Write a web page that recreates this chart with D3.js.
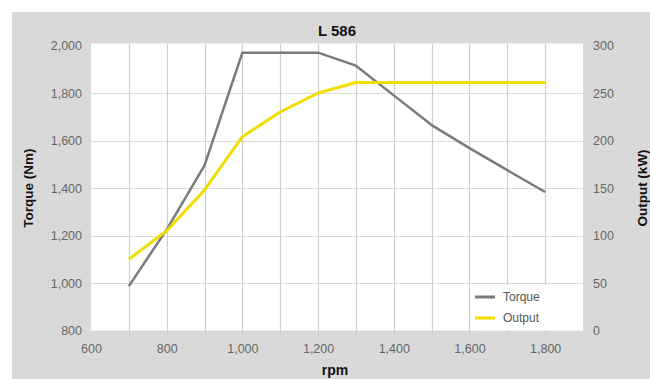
<!DOCTYPE html>
<html>
<head>
<meta charset="utf-8">
<script src="https://cdn.jsdelivr.net/npm/d3@7"></script>
<style>
  html, body { margin: 0; padding: 0; background: #fff; }
  svg { display: block; font-family: 'Liberation Sans', Arial, sans-serif; }
</style>
</head>
<body>
<svg id="chart" width="650" height="379"></svg>
<script>
// engine curve L 586
const RPM    = [700, 800, 900, 1000, 1100, 1200, 1300, 1400, 1500, 1600, 1700, 1800];
const TORQUE = [987, 1225, 1495, 1970, 1970, 1970, 1915, 1790, 1665, 1568, 1475, 1383];
const OUTPUT = [75, 105, 148, 204, 230, 250, 261, 261, 261, 261, 261, 261];

const X_TICKS  = [600, 800, 1000, 1200, 1400, 1600, 1800];
const X_GRID   = [700, 800, 900, 1000, 1100, 1200, 1300, 1400, 1500, 1600, 1700, 1800];
const YL_TICKS = [800, 1000, 1200, 1400, 1600, 1800, 2000];
const YR_TICKS = [0, 50, 100, 150, 200, 250, 300];

const SERIES = [
  { name: 'Torque', values: TORQUE, color: '#7b7b7b', w: 2.5, axis: 'l' },
  { name: 'Output', values: OUTPUT, color: '#f1de00', w: 3,   axis: 'r' },
];

const svg = d3.select('#chart');
const L = 91, R = 583, T = 45.5, B = 330.5;

const x  = d3.scaleLinear().domain([600, 1900]).range([L, R]);
const yl = d3.scaleLinear().domain([800, 2000]).range([B, T]);
const yr = d3.scaleLinear().domain([0, 300]).range([B, T]);

// grey panel
svg.append('rect').attr('x', 12).attr('y', 12).attr('width', 650).attr('height', 379).attr('fill', '#d9d9d9');
svg.append('rect').attr('x', L).attr('y', T - 2).attr('width', R - L).attr('height', B - T + 2).attr('fill', '#fff');

// grid
const gG = svg.append('g');
gG.selectAll('.hl').data(YL_TICKS.filter(v => v > 800 && v < 2000)).join('line')
  .attr('x1', L).attr('x2', R).attr('y1', d => Math.round(yl(d)) + 0.5).attr('y2', d => Math.round(yl(d)) + 0.5)
  .attr('stroke', '#dcdcdc').attr('stroke-width', 1.2);
gG.selectAll('.vl').data(X_GRID).join('line')
  .attr('x1', d => Math.round(x(d)) + 0.5).attr('x2', d => Math.round(x(d)) + 0.5)
  .attr('y1', T - 2).attr('y2', B + 5)
  .attr('stroke', '#cfcfcf').attr('stroke-width', 1.2);

// legend box covers grid lower right
svg.append('rect').attr('x', 473).attr('y', 285).attr('width', R - 473).attr('height', B - 285).attr('fill', '#fff');

// axes
const tickFont = g => g.selectAll('text').attr('font-size', '12.5px').attr('fill', '#666');
const xAx = svg.append('g').attr('transform', `translate(0,${B})`)
  .call(d3.axisBottom(x).tickValues(X_TICKS).tickSize(0).tickPadding(14).tickFormat(d3.format(',')));
xAx.select('.domain').remove();
xAx.call(tickFont);

const ylAx = svg.append('g').attr('transform', `translate(${L},0)`)
  .call(d3.axisLeft(yl).tickValues(YL_TICKS).tickSize(0).tickPadding(9).tickFormat(d3.format(',')));
ylAx.select('.domain').remove();
ylAx.call(tickFont);

const yrAx = svg.append('g').attr('transform', `translate(${R},0)`)
  .call(d3.axisRight(yr).tickValues(YR_TICKS).tickSize(0).tickPadding(10));
yrAx.select('.domain').remove();
yrAx.call(tickFont);

// lines
const gL = svg.append('g');
SERIES.forEach(s => {
  const ys = s.axis === 'l' ? yl : yr;
  const line = d3.line().x((d, i) => x(RPM[i])).y(d => ys(d));
  gL.append('path').datum(s.values).attr('d', line)
    .attr('fill', 'none').attr('stroke', s.color).attr('stroke-width', s.w)
    .attr('stroke-linejoin', 'round');
});

// legend
const lg = svg.append('g').selectAll('g').data(SERIES).join('g')
  .attr('transform', (d, i) => `translate(475,${297 + i * 21})`);
lg.append('line').attr('x1', 0).attr('x2', 20).attr('stroke', d => d.color).attr('stroke-width', 3);
lg.append('text').attr('x', 28).attr('dy', '0.35em').attr('font-size', '12px').attr('fill', '#555').text(d => d.name);

// titles
svg.append('text').attr('x', (L + R) / 2).attr('y', 36).attr('text-anchor', 'middle')
  .attr('font-size', '15px').attr('font-weight', 'bold').attr('fill', '#111').text('L 586');
svg.append('text').attr('transform', `translate(33,${(T + B) / 2}) rotate(-90)`).attr('text-anchor', 'middle')
  .attr('font-size', '13.5px').attr('font-weight', 'bold').attr('fill', '#111').text('Torque (Nm)');
svg.append('text').attr('transform', `translate(647,${(T + B) / 2}) rotate(-90)`).attr('text-anchor', 'middle')
  .attr('font-size', '13.5px').attr('font-weight', 'bold').attr('fill', '#111').text('Output (kW)');
svg.append('text').attr('x', (L + R) / 2 - 2).attr('y', 375).attr('text-anchor', 'middle')
  .attr('font-size', '14px').attr('font-weight', 'bold').attr('fill', '#111').text('rpm');
</script>
</body>
</html>
